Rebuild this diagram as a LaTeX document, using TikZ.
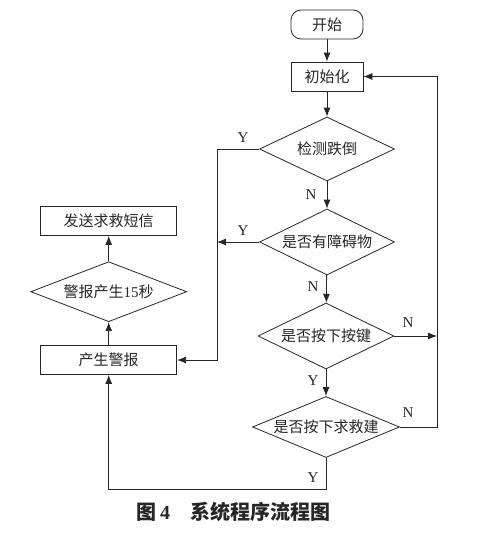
\documentclass[tikz,border=0pt]{standalone}
\usepackage{fontspec}
\setmainfont{Liberation Serif}
\newfontfamily\cjk{Noto Sans CJK SC}
\newcommand{\zh}[1]{{\cjk #1}}
\usetikzlibrary{positioning,shapes.geometric,arrows.meta}

\begin{document}
\begin{tikzpicture}[x = 1pt, y = -1pt, line width = .8pt, draw = black!85, text = black!85,
    >={Latex[length=9pt,width=7pt]},
    box/.style = {draw, minimum width = 72pt, minimum height = 29pt, inner sep = 0pt, font = \fontsize{15}{18}\selectfont},
    term/.style = {box, rounded corners = 10pt},
    test/.style = {draw, diamond, aspect = 2.1, inner sep = 0pt, font = \fontsize{15}{18}\selectfont},
    lab/.style = {font = \fontsize{15}{18}\selectfont}]
    \useasboundingbox (0,0) rectangle (478,533);
    % main column
    \node[term] (start) at (327,24.5) {\zh{开始}};
    \node[box] (init) at (327,76.5) {\zh{初始化}};
    \node[test, minimum width = 135pt, minimum height = 64pt] (fall) at (327,149) {\zh{检测跌倒}};
    \node[test, minimum width = 135pt, minimum height = 66pt] (obst) at (327,242) {\zh{是否有障碍物}};
    \node[test, minimum width = 136pt, minimum height = 66pt] (key) at (326,336) {\zh{是否按下按键}};
    \node[test, aspect = 2.4, minimum width = 147pt, minimum height = 61pt] (sos) at (326,427) {\zh{是否按下求救建}};
    % alarm column
    \node[box, minimum width = 136pt] (alarm) at (108.7,360) {\zh{产生警报}};
    \node[test, aspect = 2.6, minimum width = 156pt, minimum height = 60pt] (wait) at (108.7,291.7) {\zh{警报产生}15\zh{秒}};
    \node[box, minimum width = 136pt] (sms) at (108.7,221) {\zh{发送求救短信}};
    \coordinate (busL) at (217,0);
    \coordinate (busR) at (437,0);
    \coordinate (low) at (0,489);
    \draw[->] (start) -- (init);
    \draw[->] (init) -- (fall);
    \draw[->] (fall) -- (obst);
    \draw[->] (obst) -- (key);
    \draw[->] (key) -- (sos);
    \draw[->] (fall.west) -- (fall.west -| busL) |- (alarm.east);
    \draw[->] (obst.west) -- (obst.west -| busL);
    \draw[->] (key.east) -- (key.east -| busR);
    \draw[->] (sos.east) -- (sos.east -| busR) |- (init.east);
    \draw[->] (sos.south) -- (sos.south |- low) -| (alarm.south);
    \draw[->] (alarm) -- (wait);
    \draw[->] (wait) -- (sms);
    % branch labels
    \node[lab] (yfall) at (243,138) {Y};
    \node[lab] (nfall) at (311,195) {N};
    \node[lab] (yobst) at (243,231) {Y};
    \node[lab] (nobst) at (313,287) {N};
    \node[lab] (nkey) at (408,323) {N};
    \node[lab] (ykey) at (313,381) {Y};
    \node[lab] (nsos) at (408,413) {N};
    \node[lab] (ysos) at (313,478) {Y};
    \node[font = \fontsize{20}{24}\selectfont\bfseries] (caption) at (233.5,512) {\zh{图}\,4\hspace{20pt}\zh{系统程序流程图}};
\end{tikzpicture}
\end{document}
